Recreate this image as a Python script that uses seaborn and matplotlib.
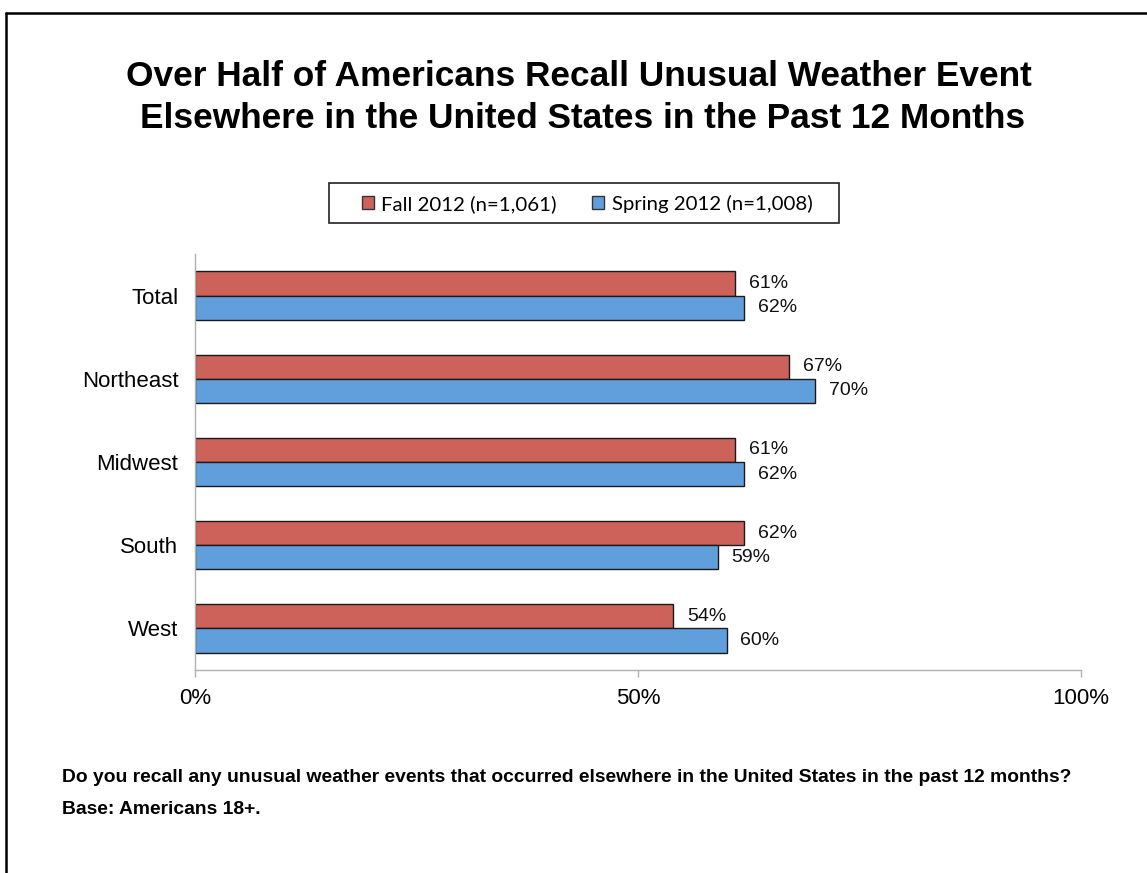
import matplotlib
matplotlib.use("Agg")
import matplotlib.pyplot as plt
import seaborn as sns
import pandas as pd
from matplotlib.patches import Patch, Rectangle
from matplotlib.lines import Line2D

categories = ["Total", "Northeast", "Midwest", "South", "West"]
fall_2012 = [61, 67, 61, 62, 54]
spring_2012 = [62, 70, 62, 59, 60]
series_names = ["Fall 2012 (n=1,061)", "Spring 2012 (n=1,008)"]
x_ticks = [0, 50, 100]
x_tick_labels = ["0%", "50%", "100%"]

colors = ["#CD625A", "#619FDC"]

sns.set_theme(style="white")
plt.rcParams["font.family"] = ["Liberation Sans", "DejaVu Sans"]
plt.rcParams["text.color"] = "black"
plt.rcParams["xtick.color"] = "black"
plt.rcParams["ytick.color"] = "black"

df = pd.DataFrame({
    "Region": categories * 2,
    "Value": fall_2012 + spring_2012,
    "Series": [series_names[0]] * len(categories) + [series_names[1]] * len(categories),
})

W, H = 1147, 873
fig = plt.figure(figsize=(W / 100, H / 100), dpi=100)
ax = fig.add_axes([195 / W, 1 - 670 / H, (1081 - 195) / W, (670 - 254) / H])

sns.barplot(data=df, y="Region", x="Value", hue="Series", order=categories,
            hue_order=series_names, palette=colors, orient="h", width=0.58,
            saturation=1, edgecolor="#1a1a1a", linewidth=1.0, ax=ax, legend=False)

for cont in ax.containers:
    labels = [f"{int(round(v))}%" for v in cont.datavalues]
    ax.bar_label(cont, labels=labels, padding=10, fontsize=14, color="#111111")

ax.set_xlim(0, 100)
ax.set_ylim(4.5, -0.5)
ax.set_xticks(x_ticks)
ax.set_xticklabels(x_tick_labels, fontsize=16)
ax.tick_params(axis="x", which="major", direction="out", length=5, width=1,
               color="#b0b0b0", pad=8, bottom=True, labelcolor="black")
ax.tick_params(axis="y", length=0, pad=12, labelsize=16, labelcolor="black")
ax.set_xlabel("")
ax.set_ylabel("")
for s in ["top", "right"]:
    ax.spines[s].set_visible(False)
for s in ["left", "bottom"]:
    ax.spines[s].set_color("#b0b0b0")
    ax.spines[s].set_linewidth(1)

# Title
fig.text(579 / W, 1 - 77 / H, "Over Half of Americans Recall Unusual Weather Event",
         ha="center", va="center", fontsize=25.4, fontweight="bold", color="black")
fig.text(583 / W, 1 - 119 / H, "Elsewhere in the United States in the Past 12 Months",
         ha="center", va="center", fontsize=25.4, fontweight="bold", color="black")

# Legend
handles = [Patch(facecolor=c, edgecolor="#333333", linewidth=1) for c in colors]
leg = fig.legend(handles, series_names, loc="center", bbox_to_anchor=(587 / W, 1 - 204 / H),
                 ncol=2, frameon=False, handlelength=0.6, handleheight=0.6,
                 handletextpad=0.35, columnspacing=1.75, borderpad=0.2,
                 borderaxespad=0, prop={"family": ["Lato", "DejaVu Sans"], "size": 14.7})
for t in leg.get_texts():
    t.set_color("black")
fig.add_artist(Rectangle((329 / W, 1 - 223 / H), (839 - 329) / W, 40 / H,
                         transform=fig.transFigure, facecolor="none",
                         edgecolor="#222222", linewidth=1.2))

# Footnotes
fig.text(62 / W, 1 - 778 / H,
         "Do you recall any unusual weather events that occurred elsewhere in the United States in the past 12 months?",
         ha="left", va="center", fontsize=13.9, fontweight="bold", color="black")
fig.text(62 / W, 1 - 810 / H, "Base: Americans 18+.",
         ha="left", va="center", fontsize=13.9, fontweight="bold", color="black")

# Frame border (top and left)
fig.add_artist(Line2D([6 / W, 1], [1 - 13 / H, 1 - 13 / H], transform=fig.transFigure,
                      color="black", linewidth=1.8))
fig.add_artist(Line2D([6 / W, 6 / W], [0, 1 - 13 / H], transform=fig.transFigure,
                      color="black", linewidth=1.8))

fig.savefig("out.png", dpi=100)
